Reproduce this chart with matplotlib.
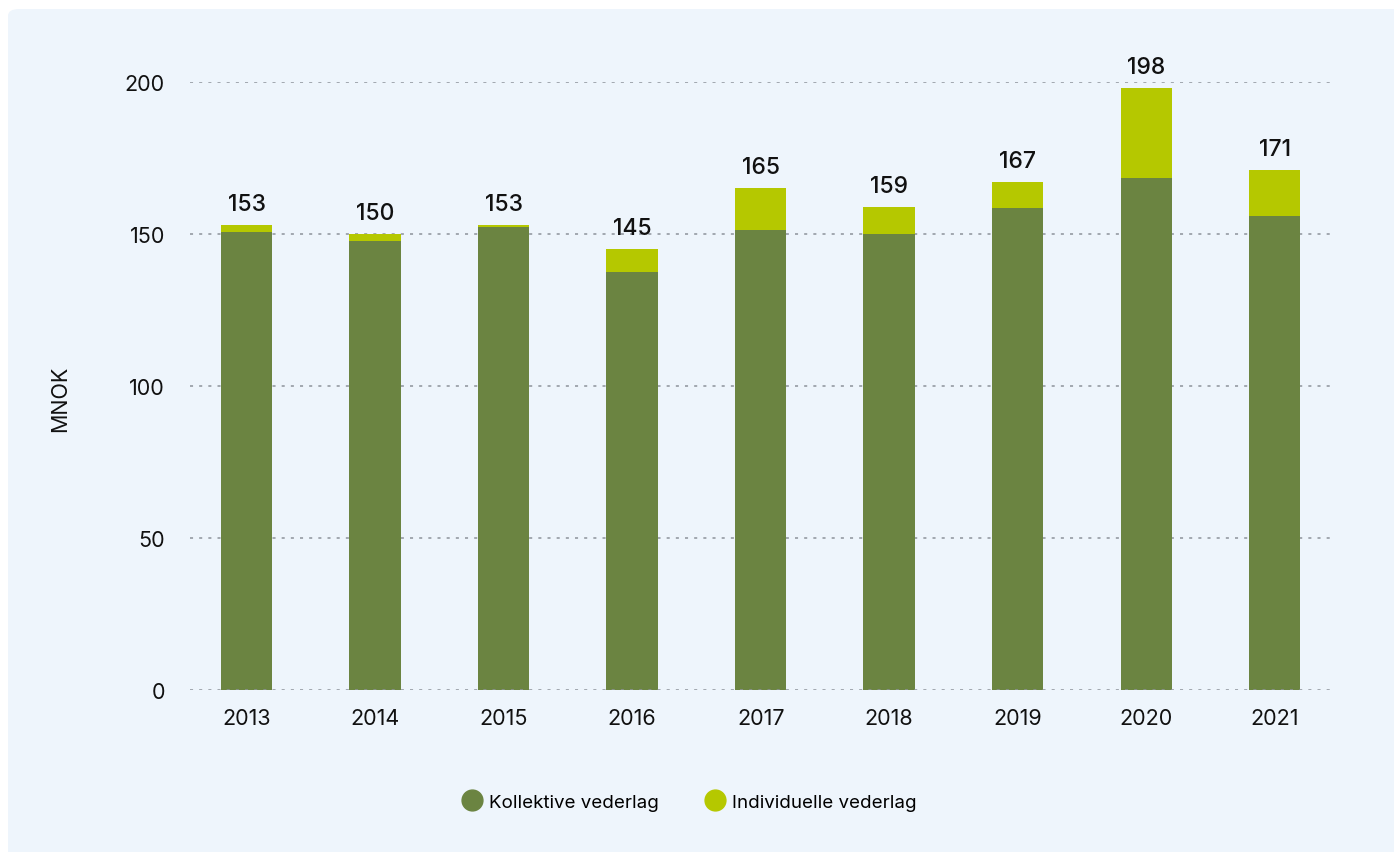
import matplotlib
matplotlib.use("Agg")
import matplotlib.pyplot as plt
from matplotlib.patches import FancyBboxPatch
from matplotlib.lines import Line2D
import numpy as np

plt.rcParams['font.family'] = ['Inter', 'DejaVu Sans']

years = ['2013', '2014', '2015', '2016', '2017', '2018', '2019', '2020', '2021']
totals = [153, 150, 153, 145, 165, 159, 167, 198, 171]
kollektive = [150.7, 147.7, 152.4, 137.4, 151.4, 150.1, 158.4, 168.5, 156.0]
individuelle = [t - k for t, k in zip(totals, kollektive)]
y_ticks = [0, 50, 100, 150, 200]

c_koll = '#6b8441'
c_ind = '#b5c800'
bg = '#eef5fc'

W, H = 1394, 853
fig = plt.figure(figsize=(W / 100, H / 100), dpi=100)
fig.patch.set_facecolor('white')

# rounded background panel
panel = FancyBboxPatch((8 / W, -0.02), (W - 8) / W + 0.02, (H - 10) / H + 0.02,
                       boxstyle='round,pad=0,rounding_size=0.008',
                       transform=fig.transFigure, facecolor=bg, edgecolor='none',
                       zorder=-5)
fig.patches.append(panel)

ax = fig.add_axes([190 / W, (H - 691) / H, (1330 - 190) / W, (691 - 83) / H])
ax.set_facecolor('none')

x = np.arange(len(years))
width = 0.4
ax.bar(x, kollektive, width, color=c_koll, zorder=2, label='Kollektive vederlag')
ax.bar(x, individuelle, width, bottom=kollektive, color=c_ind, zorder=2,
       label='Individuelle vederlag')

for xi, t in zip(x, totals):
    ax.text(xi, t + 3.3, str(t), ha='center', va='bottom', fontsize=16.5,
            fontweight='medium', color='#111111')

ax.set_xlim(-0.44, 8.43)
ax.set_ylim(0, 200)
ax.set_yticks(y_ticks)
ax.set_xticks(x)
ax.set_xticklabels(years)
ax.tick_params(axis='both', length=0, labelsize=15.5, colors='#111111')
ax.tick_params(axis='x', pad=13)
ax.tick_params(axis='y', pad=18)

for v in y_ticks[1:]:
    ax.axhline(v, color='#8d939b', lw=1.1, ls=(0, (2, 4)), zorder=1)
ax.axhline(0, color='#8d939b', lw=1.1, ls=(0, (2, 4)), zorder=3)

for s in ax.spines.values():
    s.set_visible(False)

fig.text(60 / W, (H - 399) / H, 'MNOK', rotation=90, ha='center', va='center',
         fontsize=15.5, color='#111111')

handles = [
    Line2D([], [], marker='o', ls='none', markersize=15, color=c_koll,
           label='Kollektive vederlag'),
    Line2D([], [], marker='o', ls='none', markersize=15, color=c_ind,
           label='Individuelle vederlag'),
]
fig.legend(handles=handles, loc='center', bbox_to_anchor=(0.494, (H - 803) / H),
           ncol=2, frameon=False, fontsize=13.5, handletextpad=0.3,
           columnspacing=2.4, handlelength=1.2)

fig.savefig('out.png', dpi=100, facecolor='white')
